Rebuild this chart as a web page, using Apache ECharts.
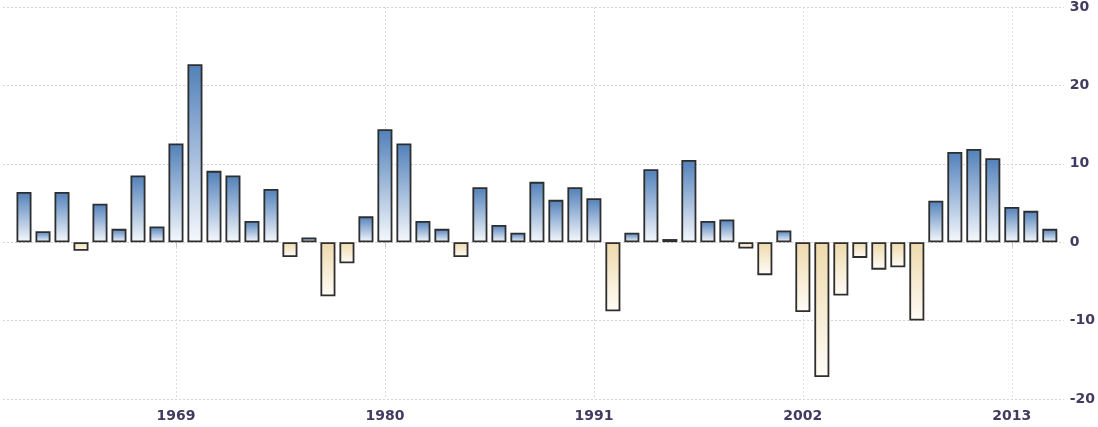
<!DOCTYPE html>
<html>
<head>
<meta charset="utf-8">
<style>
  html, body { margin: 0; padding: 0; background: #fff; }
  #chart { width: 1098px; height: 427px; }
</style>
<script src="https://cdn.jsdelivr.net/npm/echarts@6/dist/echarts.min.js"></script>
</head>
<body>
<div id="chart"></div>
<script>
const years = [];
for (let y = 1961; y <= 2015; y++) years.push(String(y));

const values = [
  6.4, 1.4, 6.4, -1.1, 4.9, 1.7, 8.5, 2.0, 12.6, 22.7,
  9.1, 8.5, 2.7, 6.8, -1.9, 0.6, -6.9, -2.7, 3.3, 14.4,
  12.6, 2.7, 1.7, -1.9, 7.0, 2.2, 1.2, 7.7, 5.4, 7.0,
  5.6, -8.8, 1.2, 9.3, 0.4, 10.5, 2.7, 2.9, -0.8, -4.2,
  1.5, -8.9, -17.2, -6.8, -2.0, -3.5, -3.2, -10.0, 5.3, 11.5,
  11.9, 10.7, 4.5, 4.0, 1.7
];

const tickYears = ['1969', '1980', '1991', '2002', '2013'];
const yTicks = [-20, -10, 0, 10, 20, 30];

const posFill = {
  type: 'linear', x: 0, y: 0, x2: 0, y2: 1,
  colorStops: [{ offset: 0, color: '#5180b9' }, { offset: 0.5, color: '#a3bcdc' }, { offset: 1, color: '#f6f9fc' }]
};
const negFill = {
  type: 'linear', x: 0, y: 0, x2: 0, y2: 1,
  colorStops: [{ offset: 0, color: '#eed9ab' }, { offset: 1, color: '#fffdf8' }]
};

const barData = values.map(v => ({
  value: v,
  itemStyle: { color: v >= 0 ? posFill : negFill }
}));

const showTick = (idx) => tickYears.indexOf(years[idx]) !== -1;
const labelFont = { fontFamily: 'DejaVu Sans', fontSize: 14, fontWeight: 600, color: '#403c60' };

const chart = echarts.init(document.getElementById('chart'), null, { renderer: 'canvas' });
chart.setOption({
  animation: false,
  backgroundColor: '#ffffff',
  grid: [
    { left: 3, right: 32, top: 7, bottom: 28 },
    { left: 24, right: 48.2, top: 7, bottom: 28 }
  ],
  xAxis: [
    { gridIndex: 0, type: 'value', show: false, min: 0, max: 1 },
    {
      gridIndex: 1, type: 'category', data: years, boundaryGap: false,
      axisLine: { show: false },
      axisTick: { show: true, interval: (i) => showTick(i), length: 5, lineStyle: { color: '#c8c8c8' } },
      axisLabel: Object.assign({ interval: (i) => showTick(i), margin: 10 }, labelFont),
      splitLine: { show: true, interval: (i) => showTick(i), lineStyle: { color: '#dcdcdc', type: [2, 2], width: 1 } }
    }
  ],
  yAxis: [
    {
      gridIndex: 0, type: 'value', position: 'right',
      min: yTicks[0], max: yTicks[yTicks.length - 1], interval: 10,
      axisLine: { show: false }, axisTick: { show: false },
      axisLabel: Object.assign({ margin: 6 }, labelFont),
      splitLine: { show: true, lineStyle: { color: '#d4d4d4', type: [2, 2], width: 1 } }
    },
    {
      gridIndex: 1, type: 'value', show: false,
      min: yTicks[0], max: yTicks[yTicks.length - 1], interval: 10,
      splitLine: { show: false }
    }
  ],
  series: [{
    type: 'bar',
    xAxisIndex: 1, yAxisIndex: 1,
    data: barData,
    barWidth: 15,
    clip: false,
    itemStyle: { borderColor: '#2e2e2e', borderWidth: 1.8 }
  }]
});
</script>
</body>
</html>
